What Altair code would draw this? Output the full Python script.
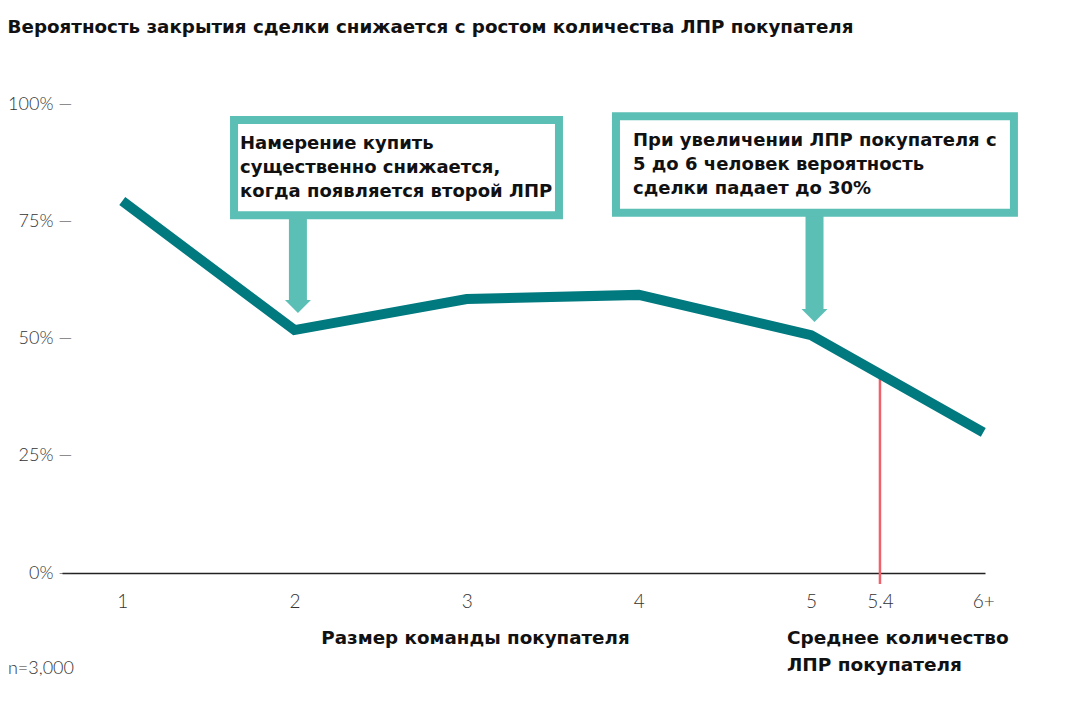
import altair as alt
import pandas as pd

# ---- data ----
team_size = [1, 2, 3, 4, 5, 6]
win_prob = [0.793, 0.518, 0.584, 0.593, 0.507, 0.30]
tick_values = [1, 2, 3, 4, 5, 5.4, 6]
tick_labels = ["1", "2", "3", "4", "5", "5.4", "6+"]
y_ticks = [0, 0.25, 0.5, 0.75, 1.0]
avg_dm = 5.4

title_text = "Вероятность закрытия сделки снижается с ростом количества ЛПР покупателя"
note1 = "Намерение купить\nсущественно снижается,\nкогда появляется второй ЛПР"
note2 = "При увеличении ЛПР покупателя с\n5 до 6 человек вероятность\nсделки падает до 30%"
x_title = "Размер команды покупателя"
avg_text = "Среднее количество\nЛПР покупателя"
n_text = "n=3,000"

TEAL = "#00797F"
LIGHT = "#5BBFB5"
RED = "#F0626B"
BOLD_FONT = "DejaVu Sans"
LIGHT_FONT = "Lato"

xs = alt.Scale(domain=[0.65, 6.01], nice=False, zero=False)
ys = alt.Scale(domain=[0, 1], nice=False, zero=False)

label_expr = " : ".join(
    [f"datum.value == {v} ? '{l}'" for v, l in zip(tick_values, tick_labels)]
) + " : datum.label"

x_axis = alt.Axis(
    values=tick_values, labelExpr=label_expr, grid=False, ticks=False,
    domainColor="#222", domainWidth=1.5, labelPadding=19, labelFontSize=19,
    labelFont=LIGHT_FONT, labelColor="#333", labelFontWeight=300,
    title=x_title, titleFont=BOLD_FONT, titleFontSize=18.3, titleFontWeight="bold",
    titleColor="#111", titleX=413, titleY=65, titleBaseline="middle")
y_axis = alt.Axis(
    values=y_ticks, labelExpr="(datum.value*100) + '% —'", grid=False, ticks=False,
    domain=False, labelPadding=-10, labelFontSize=18, labelFont=LIGHT_FONT,
    labelColor="#333", labelFontWeight=300, title=None)


def X(field="x"):
    return alt.X(f"{field}:Q", scale=xs, axis=x_axis)


def Y(field="y"):
    return alt.Y(f"{field}:Q", scale=ys, axis=y_axis)


df = pd.DataFrame({"x": team_size, "y": win_prob})

line = alt.Chart(df).mark_line(color=TEAL, strokeWidth=10, strokeJoin="miter", strokeCap="butt").encode(
    x=X(), y=Y())

red = alt.Chart(pd.DataFrame({"x": [avg_dm], "y": [0.424], "y2": [-0.0235]})).mark_rule(
    color=RED, strokeWidth=2.5).encode(x=X(), y=Y(), y2="y2:Q")

boxes_df = pd.DataFrame({
    "x": [1.649, 3.867], "x2": [3.536, 6.178],
    "y": [0.966, 0.974], "y2": [0.763, 0.768],
})
boxes = alt.Chart(boxes_df).mark_rect(fill="white", stroke=LIGHT, strokeWidth=8).encode(
    x=X(), x2="x2:Q", y=Y(), y2="y2:Q")

shaft_df = pd.DataFrame({"x": [2.02, 5.02], "y": [0.757, 0.761], "y2": [0.580, 0.561]})
shafts = alt.Chart(shaft_df).mark_rule(color=LIGHT, strokeWidth=18, strokeCap="butt").encode(
    x=X(), y=Y(), y2="y2:Q")

heads = alt.Chart(pd.DataFrame({"x": [2.02, 5.02], "y": [0.582, 0.563]})).mark_point(
    shape="M-1,0L1,0L0,1Z", size=676, filled=True, color=LIGHT, opacity=1, strokeWidth=0).encode(
    x=X(), y=Y())

notes_df = pd.DataFrame({"x": [1.684, 3.966], "y": [0.9147, 0.921], "t": [note1, note2]})
notes = alt.Chart(notes_df).mark_text(
    align="left", baseline="middle", lineBreak="\n", lineHeight=24,
    font=BOLD_FONT, fontSize=18, fontWeight="bold", color="#111").encode(
    x=X(), y=Y(), text="t:N")

avg_lbl = alt.Chart(pd.DataFrame({"x": [4.86], "y": [-0.1386], "t": [avg_text]})).mark_text(
    align="left", baseline="middle", lineBreak="\n", lineHeight=27,
    font=BOLD_FONT, fontSize=18.5, fontWeight="bold", color="#111").encode(
    x=X(), y=Y(), text="t:N")

n_lbl = alt.Chart(pd.DataFrame({"x": [0.336], "y": [-0.205], "t": [n_text]})).mark_text(
    align="left", baseline="middle", font=LIGHT_FONT, fontSize=18, fontWeight=300,
    color="#333").encode(x=X(), y=Y(), text="t:N")

chart = alt.layer(red, line, shafts, heads, boxes, notes, avg_lbl, n_lbl).properties(
    width=923, height=469,
    background="white",
    padding={"left": 54, "top": 96, "right": 83, "bottom": 123},
    autosize=alt.AutoSizeParams(type="none"),
    title=alt.TitleParams(title_text, anchor="start", frame="bounds", offset=49, baseline="middle",
                          font=BOLD_FONT, fontSize=18.3, fontWeight="bold", color="#111"),
).configure_view(strokeWidth=0)

chart.save("out.html", embed_options={"renderer": "svg", "actions": False})
